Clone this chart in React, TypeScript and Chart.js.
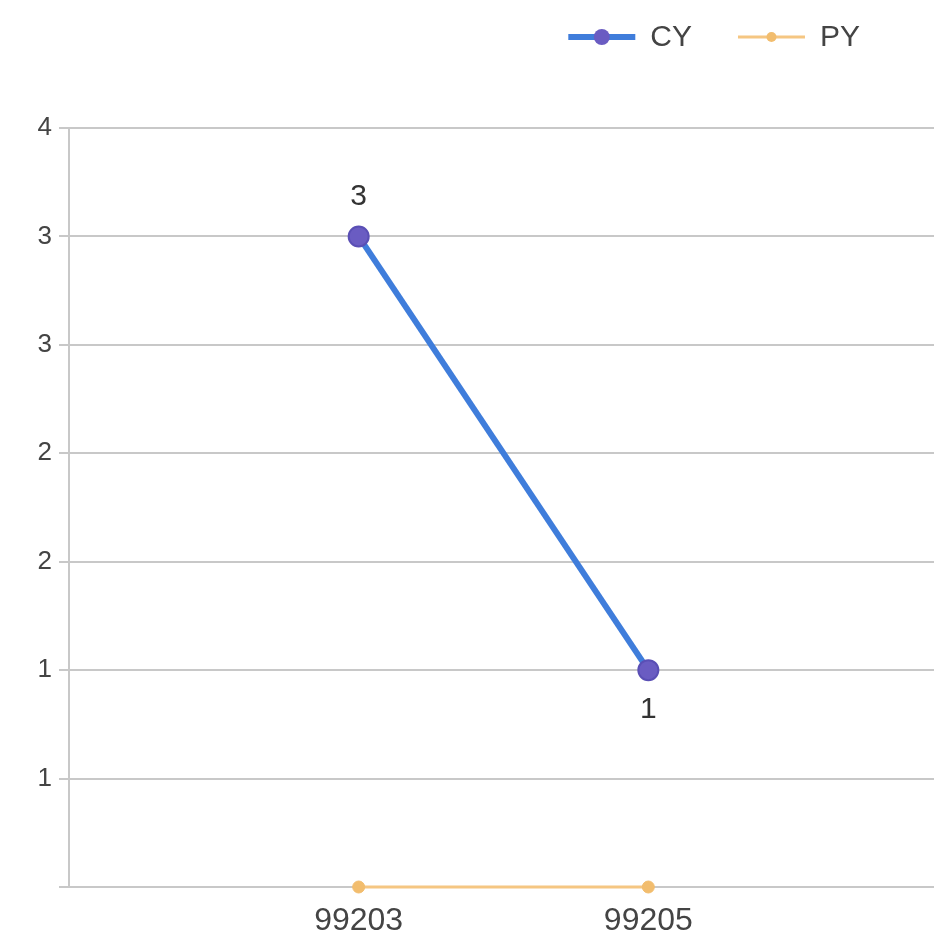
import React, { useEffect, useRef } from 'react';
import { Chart, registerables } from 'chart.js';

Chart.register(...registerables);

const categories: string[] = ['', '99203', '99205', ''];
const cyValues: (number | null)[] = [null, 3, 1, null];
const pyValues: (number | null)[] = [null, 0, 0, null];
const seriesNames: string[] = ['CY', 'PY'];
const yMin = 0;
const yMax = 3.5;
const yStep = 0.5;

const VISIBLE_W = 934;
const CANVAS_W = 950;
const CANVAS_H = 944;

const CY_LINE = '#3f7ddb';
const CY_POINT = '#6a5cc2';
const PY_LINE = '#f5c682';
const PY_POINT = '#f2bd6e';
const GRID = '#c8c8c8';
const TEXT = '#444444';
const FONT = '"Liberation Sans", Arial, sans-serif';

const dataLabelPlugin = {
  id: 'cyDataLabels',
  afterDatasetsDraw(chart: any) {
    const ctx = chart.ctx;
    const meta = chart.getDatasetMeta(0);
    const data = chart.data.datasets[0].data as (number | null)[];
    ctx.save();
    ctx.font = `30px ${FONT}`;
    ctx.fillStyle = '#333333';
    ctx.textAlign = 'center';
    ctx.textBaseline = 'middle';
    meta.data.forEach((pt: any, i: number) => {
      const v = data[i];
      if (v == null) return;
      const neighbors = [data[i - 1], data[i + 1]].filter((n) => n != null) as number[];
      const above = neighbors.every((n) => v >= n);
      ctx.fillText(String(v), pt.x, pt.y + (above ? -40 : 40));
    });
    ctx.restore();
  },
};

const customLegendPlugin = {
  id: 'customLegend',
  afterDraw(chart: any) {
    const ctx = chart.ctx;
    ctx.save();
    ctx.font = `30px ${FONT}`;
    ctx.textBaseline = 'middle';
    ctx.textAlign = 'left';
    const y = 37;
    const lineW = 67;
    const textGap = 15;
    const itemGap = 46;
    const endX = VISIBLE_W - 74;
    const pyTextW = ctx.measureText(seriesNames[1]).width;
    const cyTextW = ctx.measureText(seriesNames[0]).width;
    const pyTextX = endX - pyTextW;
    const pyLineX = pyTextX - textGap - lineW;
    const cyTextX = pyLineX - itemGap - cyTextW;
    const cyLineX = cyTextX - textGap - lineW;
    // CY
    ctx.strokeStyle = CY_LINE;
    ctx.lineWidth = 6;
    ctx.beginPath();
    ctx.moveTo(cyLineX, y);
    ctx.lineTo(cyLineX + lineW, y);
    ctx.stroke();
    ctx.fillStyle = CY_POINT;
    ctx.beginPath();
    ctx.arc(cyLineX + lineW / 2, y, 8, 0, Math.PI * 2);
    ctx.fill();
    ctx.fillStyle = TEXT;
    ctx.fillText(seriesNames[0], cyTextX, y + 1);
    // PY
    ctx.strokeStyle = PY_LINE;
    ctx.lineWidth = 3;
    ctx.beginPath();
    ctx.moveTo(pyLineX, y);
    ctx.lineTo(pyLineX + lineW, y);
    ctx.stroke();
    ctx.fillStyle = PY_POINT;
    ctx.beginPath();
    ctx.arc(pyLineX + lineW / 2, y, 5, 0, Math.PI * 2);
    ctx.fill();
    ctx.fillStyle = TEXT;
    ctx.fillText(seriesNames[1], pyTextX, y + 1);
    ctx.restore();
  },
};

export default function App() {
  const canvasRef = useRef<HTMLCanvasElement | null>(null);

  useEffect(() => {
    document.body.style.margin = '0';
    const canvas = canvasRef.current;
    if (!canvas) return;
    const chart = new Chart(canvas, {
      type: 'line',
      data: {
        labels: categories,
        datasets: [
          {
            label: seriesNames[0],
            data: cyValues,
            borderColor: CY_LINE,
            backgroundColor: CY_POINT,
            borderWidth: 6,
            pointRadius: 10,
            pointBackgroundColor: CY_POINT,
            pointBorderColor: '#5a4fb5',
            pointBorderWidth: 2,
            tension: 0,
            clip: false as any,
            order: 1,
          },
          {
            label: seriesNames[1],
            data: pyValues,
            borderColor: PY_LINE,
            backgroundColor: PY_POINT,
            borderWidth: 3,
            pointRadius: 6,
            pointBackgroundColor: PY_POINT,
            pointBorderColor: PY_POINT,
            pointBorderWidth: 1,
            tension: 0,
            clip: false as any,
            order: 2,
          },
        ],
      },
      options: {
        responsive: false,
        animation: false,
        events: [],
        layout: { padding: { top: 128, left: 0, right: 0, bottom: 0 } },
        plugins: {
          legend: { display: false },
          tooltip: { enabled: false },
        },
        scales: {
          x: {
            type: 'category',
            offset: false,
            grid: { display: false, drawTicks: false },
            border: { display: true, color: GRID, width: 2 },
            ticks: {
              autoSkip: false,
              maxRotation: 0,
              padding: 15,
              color: TEXT,
              font: { family: FONT, size: 32 },
            },
            afterFit(scale: any) {
              scale.height = 57;
              scale.paddingRight = 0;
              scale.paddingLeft = 0;
            },
          },
          y: {
            min: yMin,
            max: yMax,
            grid: { color: GRID, lineWidth: 2, tickLength: 10, tickColor: GRID },
            border: { display: true, color: GRID, width: 2 },
            ticks: {
              stepSize: yStep,
              padding: 7,
              color: TEXT,
              font: { family: FONT, size: 26 },
              callback: (value: any) => (Number(value) === 0 ? '' : String(Math.round(Number(value)))),
            },
            afterFit(scale: any) {
              scale.width = 69;
            },
          },
        },
      },
      plugins: [dataLabelPlugin, customLegendPlugin],
    });
    return () => chart.destroy();
  }, []);

  return (
    <div style={{ width: VISIBLE_W, height: CANVAS_H, overflow: 'hidden', background: '#ffffff' }}>
      <canvas ref={canvasRef} width={CANVAS_W} height={CANVAS_H} style={{ display: 'block' }} />
    </div>
  );
}
